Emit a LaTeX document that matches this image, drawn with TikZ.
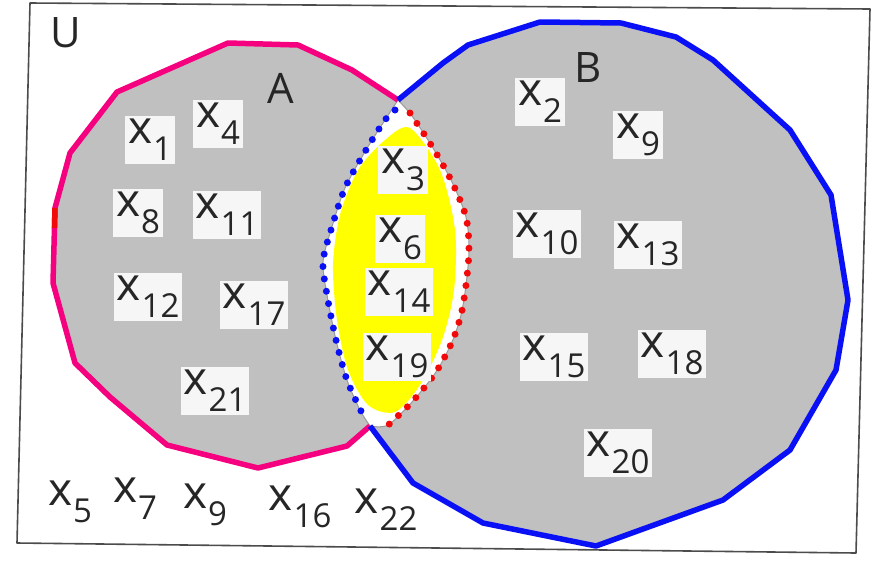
\documentclass[tikz,border=0pt]{standalone}
\usepackage{fontspec}
\setmainfont{Open Sans}
\definecolor{APink}  {HTML}{F5007E}
\definecolor{BBlue}  {HTML}{0A10F5}
\definecolor{DotRed} {HTML}{F20A0A}
\definecolor{SetGray}{HTML}{C0C0C0}
\definecolor{LensYel}{HTML}{FFFF00}
\newcommand{\elem}[1]{{\fontsize{46}{46}\selectfont x}\kern1pt\raisebox{-17pt}{#1}}

\begin{document}
\begin{tikzpicture}[x=1pt,y=-1pt,
  frame/.style={draw=black!70,line width=1.6pt,line join=round},
  setA/.style={draw=APink,line width=5.5pt,line join=round},
  setB/.style={draw=BBlue,line width=5.5pt,line join=round},
  pencil/.style={draw=black!40,line width=1pt},
  dots/.style={line width=7pt,line cap=round,dash pattern=on 0pt off 12.5pt},
  lbl/.style={font=\fontsize{33}{33}\selectfont,fill=white!93!gray,
    inner sep=3pt,text=black!85},
  setname/.style={font=\fontsize{42}{42}\selectfont,text=black!85}
]
\useasboundingbox (0,0) rectangle (886,566);
\fill[white] (0,0) rectangle (886,566);
\coordinate (top) at (398,100);
\coordinate (bot) at (370,426);

% grey shading of A and B
\fill[SetGray] (top) -- (352,70) -- (298,45) -- (228,43) -- (117,92) -- (70,153)
  -- (55,208) -- (53,283) -- (75,363) -- (110,397) -- (167,445) -- (258,468)
  -- (347,446) -- (bot) -- plot[smooth] coordinates {(370,426) (388,425) (412,402)
  (436,372) (452,342) (461,315) (466,285) (469,250) (466,217) (452,182) (433,148)
  (412,116) (398,100)} -- cycle;
\fill[SetGray] (top) -- (443,63) -- (468,45) -- (540,22) -- (621,23) -- (676,37)
  -- (713,60) -- (790,130) -- (831,195) -- (848,300) -- (836,370) -- (790,450)
  -- (723,500) -- (596,546) -- (483,523) -- (413,483) -- (bot)
  -- plot[smooth] coordinates {(370,426) (360,410) (347,380) (336,340) (327,295)
  (323,262) (331,230) (345,188) (366,150) (385,120) (398,100)} -- cycle;

% the intersection
\fill[white] plot[smooth] coordinates {(370,426) (360,410) (347,380) (336,340)
  (327,295) (323,262) (331,230) (345,188) (366,150) (385,120) (398,100)}
  -- plot[smooth] coordinates {(398,100) (412,116) (433,148) (452,182) (466,217)
  (469,250) (466,285) (461,315) (452,342) (436,372) (412,402) (388,425) (370,426)}
  -- cycle;
\fill[LensYel] plot[smooth cycle] coordinates {(410,128) (440,170) (455,230)
  (454,290) (442,340) (420,385) (395,412) (368,405) (348,370) (337,320)
  (333,265) (340,215) (358,170) (385,140)};

% pencil arcs and dotted outlines
\draw[pencil] plot[smooth] coordinates {(398,100) (412,116) (433,148) (452,182)
  (466,217) (469,250) (466,285) (461,315) (452,342) (436,372) (412,402) (388,425)
  (370,426)};
\draw[pencil] plot[smooth] coordinates {(370,426) (360,410) (347,380) (336,340)
  (327,295) (323,262) (331,230) (345,188) (366,150) (385,120) (398,100)};
\draw[dots,DotRed] plot[smooth] coordinates {(410,113) (433,148) (452,182)
  (466,217) (469,250) (466,285) (461,315) (452,342) (436,372) (412,402) (385,428)};
\draw[dots,BBlue] plot[smooth] coordinates {(395,110) (385,120) (366,150) (345,188)
  (331,230) (323,262) (327,295) (336,340) (347,380) (362,413)};

% outlines
\draw[setA] (top) -- (352,70) -- (298,45) -- (228,43) -- (117,92) -- (70,153)
  -- (55,208) -- (53,283) -- (75,363) -- (110,397) -- (167,445) -- (258,468)
  -- (347,446) -- (bot);
\draw[DotRed,line width=5.5pt] (55,208) -- (54.5,228);
\draw[setB] (top) -- (443,63) -- (468,45) -- (540,22) -- (621,23) -- (676,37)
  -- (713,60) -- (790,130) -- (831,195) -- (848,300) -- (836,370) -- (790,450)
  -- (723,500) -- (596,546) -- (483,523) -- (413,483) -- (bot);
\draw[frame] (30,3) -- (870,9) -- (856,553) -- (17,543) -- cycle;

% set names
\node[setname] (U) at (66,33) {U};
\node[setname] (A) at (281,88) {A};
\node[setname] (B) at (588,68) {B};

% elements of A only
\node[lbl] (x1)  at (150,140) {\elem{1}};
\node[lbl] (x4)  at (218,124) {\elem{4}};
\node[lbl] (x8)  at (138,213) {\elem{8}};
\node[lbl] (x11) at (227,215) {\elem{11}};
\node[lbl] (x12) at (148,297) {\elem{12}};
\node[lbl] (x17) at (254,305) {\elem{17}};
\node[lbl] (x21) at (215,391) {\elem{21}};
% elements of A and B
\node[lbl] (x3)  at (403,170) {\elem{3}};
\node[lbl] (x6)  at (400,239) {\elem{6}};
\node[lbl] (x14) at (399,292) {\elem{14}};
\node[lbl] (x19) at (397,357) {\elem{19}};
% elements of B only
\node[lbl] (x2)  at (540,102) {\elem{2}};
\node[lbl] (x9b) at (638,135) {\elem{9}};
\node[lbl] (x10) at (547,234) {\elem{10}};
\node[lbl] (x13) at (648,245) {\elem{13}};
\node[lbl] (x15) at (554,357) {\elem{15}};
\node[lbl] (x18) at (672,354) {\elem{18}};
\node[lbl] (x20) at (618,453) {\elem{20}};
% outside both
\node[lbl,fill=none] (x5)  at (70,502)  {\elem{5}};
\node[lbl,fill=none] (x7)  at (135,499) {\elem{7}};
\node[lbl,fill=none] (x9)  at (205,505) {\elem{9}};
\node[lbl,fill=none] (x16) at (300,507) {\elem{16}};
\node[lbl,fill=none] (x22) at (386,510) {\elem{22}};
\end{tikzpicture}
\end{document}
